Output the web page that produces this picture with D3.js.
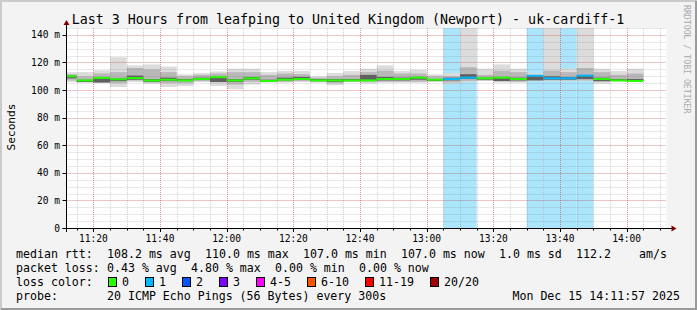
<!DOCTYPE html>
<html>
<head>
<meta charset="utf-8">
<script src="https://cdn.jsdelivr.net/npm/d3@7"></script>
<style>
  html, body { margin: 0; padding: 0; background: #f3f3f3; }
  svg { display: block; }
  text { font-family: "DejaVu Sans Mono", monospace; fill: #000; }
</style>
</head>
<body>
<svg id="chart" width="697" height="310"></svg>
<script>
// 5 minute bins, start time of each bin
const binStarts = ["11:10","11:15","11:20","11:25","11:30","11:35","11:40","11:45","11:50","11:55",
                   "12:00","12:05","12:10","12:15","12:20","12:25","12:30","12:35","12:40","12:45","12:50","12:55",
                   "13:00","13:05","13:10","13:15","13:20","13:25","13:30","13:35","13:40","13:45","13:50","13:55",
                   "14:00"];
// rtt values in ms
const maxRtt = [113,113,114.3,123.8,117.9,118.6,117.1,111.4,112.3,113.5,115.5,115.5,113,113.8,113.8,109.9,112.3,113.8,
                115.5,117.9,113.8,114.7,111.4,112.3,160,115.5,118.6,115.5,112.3,160,115.5,160,115.5,113.8,115.5];
const hiRtt  = [111.5,110,112,113,116,115,113,110,111,112,113,113,111,112,111.5,109,110,111,
                113,114,112,112,110,110,116.6,111,114,113,111,114,113,116,113,111,112];
const loRtt  = [107,106,106,105,107,105.5,105,105,106.5,106,104,106,106,106,106.5,106,105,106,
                106,106,106,106,106.5,105.5,106.5,107,107,106,107,107,107,107,106,106.5,106.5];
const minRtt = [105.8,105.4,105.4,102.2,105.8,104.7,102.2,103,105.8,103,100.6,104,105.4,105.4,105.8,105.4,103.5,105.8,
                104.7,105.4,105.4,105.4,106,104.7,105.8,106.6,105.4,105.4,106.6,106.6,106.6,106.6,104.7,106.2,106];
const coreHi = [110.5,107.5,109,108.5,110.5,108,109,108,109,109.5,108,109.5,107.5,109,109.5,108,108,108,
                111,109.5,109,109.5,108,109,111.5,109,109,109,110,110,109.5,111,109,108,108];
const coreLo = [108.5,105.8,105.4,106.5,107.5,106,106.5,106.5,107.5,105.8,106,107.5,106,107,107.5,106.5,106,106.5,
                107,107,107,107.5,106.5,107,108,107.5,106.5,107,107,107.5,107.5,108,106.5,106.5,106.5];
const medRtt = [110,107,108.8,107.8,108.7,107,107.5,107,108,109.4,107,108.5,106.6,107.5,108,107,107,107,
                107,108,108,109,107.5,108,109,108.5,109,108,110.4,108.5,108.5,110.4,108,107,106.6];
const lossCnt = [0,0,0,0,0,0,0,0,0,0,0,0,0,0,0,0,0,0,0,0,0,0,0,1,1,0,0,0,1,1,1,1,0,0,0];

const lossLabels = ["0","1","2","3","4-5","6-10","11-19","20/20"];
const lossColors = ["#26ff00","#00b8ff","#0059ff","#7e00ff","#ff00ff","#ff5500","#ff0000","#a10000"];
const lossBgColors = ["none","#aae5fb","#a6c4ff","#d4adff","#ffb0ff","#ffc6a8","#ffa8a8","#e0a8a8"];

const yTicks = [0,20,40,60,80,100,120,140];
const yTickLabels = ["0","20 m","40 m","60 m","80 m","100 m","120 m","140 m"];

const titleText = "Last 3 Hours from leafping to United Kingdom (Newport) - uk-cardiff-1";

const day = (h, m, s) => new Date(2025, 11, 15, h, m, s || 0);
const parseBin = s => { const p = s.split(":"); return day(+p[0], +p[1]); };

const svg = d3.select("#chart");
const W = 697, H = 310;
const pLeft = 66.5, pRight = 666.5, pTop = 28, pBottom = 228;

const x = d3.scaleTime().domain([day(11, 11, 57), day(14, 11, 57)]).range([pLeft, pRight]);
const y = d3.scaleLinear().domain([0, 145]).range([pBottom, pTop]);

// frame
svg.append("rect").attr("width", W).attr("height", H).attr("fill", "#f3f3f3");
svg.append("path").attr("d", `M1,${H} V1 H${W}`).attr("fill", "none").attr("stroke", "#cbcbcb").attr("stroke-width", 2);
svg.append("path").attr("d", `M1,${H - 1} H${W - 1} V1`).attr("fill", "none").attr("stroke", "#9a9a9a").attr("stroke-width", 2);

// canvas
svg.append("rect").attr("x", pLeft).attr("y", pTop).attr("width", pRight - pLeft).attr("height", pBottom - pTop).attr("fill", "#fff");

svg.append("clipPath").attr("id", "plot")
  .append("rect").attr("x", pLeft).attr("y", pTop).attr("width", pRight - pLeft).attr("height", pBottom - pTop);

const bins = binStarts.map((s, i) => {
  const t0 = parseBin(s);
  return {
    t0: t0, t1: new Date(+t0 + 5 * 60000),
    max: maxRtt[i], hi: hiRtt[i], lo: loRtt[i], min: minRtt[i],
    cHi: coreHi[i], cLo: coreLo[i], med: medRtt[i], loss: lossCnt[i]
  };
});

const lossIndex = n => n === 0 ? 0 : n === 1 ? 1 : n === 2 ? 2 : n === 3 ? 3 : n <= 5 ? 4 : n <= 10 ? 5 : n < 20 ? 6 : 7;

const g = svg.append("g").attr("clip-path", "url(#plot)");

// loss background columns
g.selectAll(".lossbg")
  .data(bins.filter(d => d.loss > 0))
  .join("rect")
  .attr("x", d => x(d.t0)).attr("width", d => x(d.t1) - x(d.t0))
  .attr("y", pTop).attr("height", pBottom - pTop)
  .attr("fill", d => lossBgColors[lossIndex(d.loss)]);

// smoke bands, outer to inner
const bands = [
  { a: "min", b: "max", color: "#dcdcdc" },
  { a: "lo", b: "hi", color: "#b8b8b8" },
  { a: "cLo", b: "cHi", color: "#606060" }
];
bands.forEach(band => {
  g.selectAll(null)
    .data(bins)
    .join("rect")
    .attr("x", d => x(d.t0)).attr("width", d => x(d.t1) - x(d.t0))
    .attr("y", d => y(d[band.b]))
    .attr("height", d => y(d[band.a]) - y(d[band.b]))
    .attr("fill", band.color);
});

// median line
g.selectAll(".median")
  .data(bins)
  .join("rect")
  .attr("x", d => x(d.t0)).attr("width", d => x(d.t1) - x(d.t0))
  .attr("y", d => y(d.med) - 1).attr("height", 2)
  .attr("fill", d => lossColors[lossIndex(d.loss)]);

// grid on top
const minorX = d3.timeMinute.every(5).range(x.domain()[0], x.domain()[1]);
const majorX = minorX.filter(t => t.getMinutes() % 20 === 0);
const minorY = d3.range(5, 146, 5);
const majorY = yTicks.filter(v => v > 0);

const grid = svg.append("g").attr("fill", "none").attr("stroke-dasharray", "1,1");
grid.selectAll(".vmin").data(minorX).join("line")
  .attr("x1", d => Math.round(x(d)) + 0.5).attr("x2", d => Math.round(x(d)) + 0.5)
  .attr("y1", pTop).attr("y2", pBottom)
  .attr("stroke", "rgba(110,110,110,0.3)");
grid.selectAll(".hmin").data(minorY).join("line")
  .attr("x1", pLeft).attr("x2", pRight)
  .attr("y1", d => Math.round(y(d)) + 0.5).attr("y2", d => Math.round(y(d)) + 0.5)
  .attr("stroke", "rgba(110,110,110,0.3)");
grid.selectAll(".vmaj").data(majorX).join("line")
  .attr("x1", d => Math.round(x(d)) + 0.5).attr("x2", d => Math.round(x(d)) + 0.5)
  .attr("y1", pTop).attr("y2", pBottom)
  .attr("stroke", "rgba(255,40,40,0.35)");
grid.selectAll(".hmaj").data(majorY).join("line")
  .attr("x1", pLeft).attr("x2", pRight)
  .attr("y1", d => Math.round(y(d)) + 0.5).attr("y2", d => Math.round(y(d)) + 0.5)
  .attr("stroke", "rgba(255,40,40,0.35)");

// axes
const ax = svg.append("g");
ax.append("line").attr("x1", pLeft).attr("x2", pLeft).attr("y1", pBottom + 4).attr("y2", pTop - 4).attr("stroke", "#000");
ax.append("line").attr("x1", pLeft - 4).attr("x2", pRight + 6).attr("y1", pBottom + 0.5).attr("y2", pBottom + 0.5).attr("stroke", "#000");
ax.append("path").attr("d", `M${pLeft - 3},${pTop - 3} L${pLeft},${pTop - 8} L${pLeft + 3},${pTop - 3} Z`).attr("fill", "#800000");
ax.append("path").attr("d", `M${pRight + 5},${pBottom - 2.5} L${pRight + 10},${pBottom + 0.5} L${pRight + 5},${pBottom + 3.5} Z`).attr("fill", "#800000");

ax.selectAll(".yt").data(yTicks).join("line")
  .attr("x1", pLeft - 4).attr("x2", pLeft)
  .attr("y1", d => Math.round(y(d)) + 0.5).attr("y2", d => Math.round(y(d)) + 0.5)
  .attr("stroke", "#000");
ax.selectAll(".xt").data(minorX).join("line")
  .attr("x1", d => Math.round(x(d)) + 0.5).attr("x2", d => Math.round(x(d)) + 0.5)
  .attr("y1", pBottom).attr("y2", d => d.getMinutes() % 20 === 0 ? pBottom + 4 : pBottom + 2.5)
  .attr("stroke", "#000");

ax.selectAll(".ylab").data(yTicks).join("text")
  .attr("x", 60).attr("y", d => y(d) + 3.5)
  .attr("text-anchor", "end").attr("font-size", "9.6px")
  .text((d, i) => yTickLabels[i]);

ax.selectAll(".xlab").data(majorX).join("text")
  .attr("x", d => x(d)).attr("y", 241.5)
  .attr("text-anchor", "middle").attr("font-size", "9.6px")
  .text(d => d3.timeFormat("%H:%M")(d));

// titles
svg.append("text").attr("x", 348).attr("y", 23.5).attr("text-anchor", "middle")
  .attr("font-size", "13.3px").text(titleText);
svg.append("text").attr("transform", "translate(15,127) rotate(-90)").attr("text-anchor", "middle")
  .attr("font-size", "11.2px").text("Seconds");
svg.append("text").attr("transform", "translate(684,5) rotate(90)").attr("text-anchor", "start")
  .attr("font-size", "8.2px").style("fill", "#aaa").text("RRDTOOL / TOBI OETIKER");

// legend
const legendRows = [
  [[16, "median rtt:"], [107, "108.2 ms avg"], [205, "110.0 ms max"], [303, "107.0 ms min"], [401, "107.0 ms now"],
   [499, "1.0 ms sd"], [576, "112.2"], [639, "am/s"]],
  [[16, "packet loss:"], [107, "0.43 % avg"], [191, "4.80 % max"], [275, "0.00 % min"], [359, "0.00 % now"]],
  [[16, "loss color:"]],
  [[16, "probe:"], [107, "20 ICMP Echo Pings (56 Bytes) every 300s"]]
];
const rowBase = [258, 272, 286, 300];
const leg = svg.append("g").attr("font-size", "11.6px");
legendRows.forEach((row, r) => {
  row.forEach(([lx, txt]) => {
    leg.append("text").attr("x", lx).attr("y", rowBase[r]).attr("xml:space", "preserve").text(txt);
  });
});
leg.append("text").attr("x", 680).attr("y", rowBase[3]).attr("text-anchor", "end").text("Mon Dec 15 14:11:57 2025");

const swatchX = [108, 145, 182, 219, 256, 307, 365, 430];
lossLabels.forEach((lab, i) => {
  leg.append("rect").attr("x", swatchX[i] + 0.5).attr("y", rowBase[2] - 8.5).attr("width", 8).attr("height", 9)
    .attr("fill", lossColors[i]).attr("stroke", "#000");
  leg.append("text").attr("x", swatchX[i] + 14).attr("y", rowBase[2]).text(lab);
});
</script>
</body>
</html>
